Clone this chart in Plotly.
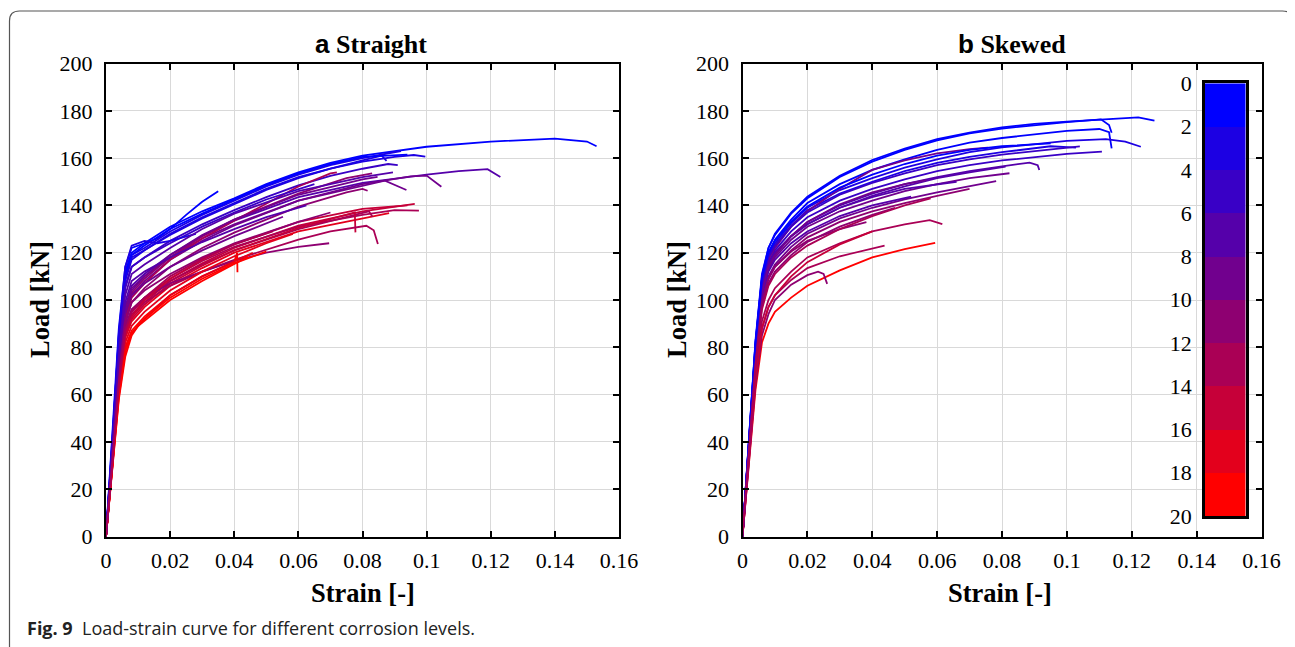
import plotly.graph_objects as go

# ---------------- data ----------------
tick_vals_x = [0, 0.02, 0.04, 0.06, 0.08, 0.1, 0.12, 0.14, 0.16]
tick_text_x = ["0", "0.02", "0.04", "0.06", "0.08", "0.1", "0.12", "0.14", "0.16"]
tick_vals_y = [0, 20, 40, 60, 80, 100, 120, 140, 160, 180, 200]

cbar_ticks = [0, 2, 4, 6, 8, 10, 12, 14, 16, 18, 20]
cbar_band_centers = [1, 3, 5, 7, 9, 11, 13, 15, 17, 19]
band_colors = ["#0000FF", "#1C00E3", "#3900C6", "#5500AA", "#71008E",
               "#8E0071", "#AA0055", "#C60039", "#E3001C", "#FF0000"]

# Straight bars: corrosion level, strain, load
straight_level = [0, 1, 2, 2, 3, 4, 1, 7, 9, 8, 10, 11, 12, 9, 6, 8, 5,
                  14, 12, 16, 13, 15, 12, 11, 18, 20, 17, 16, 19, 14, 10, 3, 6, 13]
straight_strain = [
    [0, 0.002, 0.004, 0.006, 0.008, 0.012, 0.02, 0.03, 0.04, 0.05, 0.06, 0.07, 0.08, 0.09, 0.1, 0.12, 0.14, 0.15, 0.153],
    [0, 0.002, 0.004, 0.006, 0.008, 0.012, 0.016, 0.02, 0.025, 0.03, 0.035],
    [0, 0.002, 0.004, 0.006, 0.008, 0.012, 0.02, 0.03, 0.04, 0.05, 0.06, 0.07, 0.08, 0.09, 0.092],
    [0, 0.002, 0.004, 0.006, 0.008, 0.012, 0.02, 0.03, 0.04, 0.05, 0.06, 0.07, 0.08, 0.09, 0.096, 0.0996],
    [0, 0.002, 0.004, 0.006, 0.008, 0.012, 0.02, 0.03, 0.04, 0.05, 0.06, 0.07, 0.08, 0.086, 0.0875],
    [0, 0.002, 0.004, 0.006, 0.008, 0.012, 0.02, 0.03, 0.04, 0.05, 0.06, 0.07, 0.08, 0.088, 0.091],
    [0, 0.002, 0.004, 0.006, 0.008, 0.012, 0.02, 0.03, 0.04, 0.05, 0.06, 0.07, 0.08, 0.094],
    [0, 0.002, 0.004, 0.006, 0.008, 0.012, 0.02, 0.03, 0.04, 0.06, 0.08, 0.1, 0.11, 0.119, 0.123],
    [0, 0.002, 0.004, 0.006, 0.008, 0.012, 0.02, 0.03, 0.04, 0.06, 0.08, 0.095, 0.1, 0.1046],
    [0, 0.002, 0.004, 0.006, 0.008, 0.012, 0.02, 0.03, 0.04, 0.06, 0.08, 0.087, 0.0937],
    [0, 0.002, 0.004, 0.006, 0.008, 0.012, 0.02, 0.03, 0.04, 0.06, 0.075, 0.08, 0.0816],
    [0, 0.002, 0.004, 0.006, 0.008, 0.012, 0.02, 0.03, 0.04, 0.06, 0.075, 0.083],
    [0, 0.002, 0.004, 0.006, 0.008, 0.012, 0.02, 0.03, 0.04, 0.06, 0.07, 0.072],
    [0, 0.002, 0.004, 0.006, 0.008, 0.012, 0.02, 0.03, 0.04, 0.06, 0.08, 0.0847],
    [0, 0.002, 0.004, 0.006, 0.008, 0.012, 0.02, 0.03, 0.04, 0.05, 0.0625],
    [0, 0.002, 0.004, 0.006, 0.008, 0.012, 0.02, 0.03, 0.04, 0.0552],
    [0, 0.002, 0.004, 0.006, 0.008, 0.012, 0.02, 0.03, 0.04, 0.05, 0.065],
    [0, 0.002, 0.004, 0.006, 0.008, 0.012, 0.02, 0.03, 0.04, 0.06, 0.08, 0.0963],
    [0, 0.002, 0.004, 0.006, 0.008, 0.012, 0.02, 0.03, 0.04, 0.06, 0.08, 0.09, 0.0976],
    [0, 0.002, 0.004, 0.006, 0.008, 0.012, 0.02, 0.03, 0.04, 0.06, 0.08, 0.0883],
    [0, 0.002, 0.004, 0.006, 0.008, 0.012, 0.02, 0.03, 0.04, 0.06, 0.075, 0.082, 0.0831],
    [0, 0.002, 0.004, 0.006, 0.008, 0.012, 0.02, 0.03, 0.04, 0.06, 0.0776, 0.0778],
    [0, 0.002, 0.004, 0.006, 0.008, 0.012, 0.02, 0.03, 0.04, 0.06, 0.07, 0.0812, 0.0835, 0.0848],
    [0, 0.002, 0.004, 0.006, 0.008, 0.012, 0.02, 0.03, 0.04, 0.05, 0.06, 0.0696],
    [0, 0.002, 0.004, 0.006, 0.008, 0.012, 0.02, 0.03, 0.04, 0.0409, 0.041],
    [0, 0.002, 0.004, 0.006, 0.008, 0.01, 0.02, 0.03, 0.04, 0.0443],
    [0, 0.002, 0.004, 0.006, 0.008, 0.012, 0.02, 0.03, 0.04, 0.0458],
    [0, 0.002, 0.004, 0.006, 0.008, 0.012, 0.02, 0.03, 0.04, 0.05, 0.0583],
    [0, 0.002, 0.004, 0.006, 0.008, 0.012, 0.02, 0.03, 0.04, 0.05],
    [0, 0.002, 0.004, 0.006, 0.008, 0.012, 0.02, 0.03, 0.04, 0.06, 0.08, 0.094],
    [0, 0.002, 0.004, 0.006, 0.008, 0.012, 0.02, 0.03, 0.04, 0.06, 0.07],
    [0, 0.002, 0.004, 0.006, 0.008, 0.012, 0.016, 0.02, 0.028],
    [0, 0.002, 0.004, 0.006, 0.008, 0.012, 0.02, 0.03, 0.04, 0.06, 0.08, 0.0895],
    [0, 0.002, 0.004, 0.006, 0.008, 0.012, 0.02, 0.03, 0.04, 0.052],
]
straight_load = [
    [0, 40, 85, 112, 120, 124, 131, 137.5, 143, 149, 154, 158, 161, 163, 164.8, 167, 168.2, 167, 165],
    [0, 42, 88, 114, 122, 124, 126, 130, 136, 141.5, 146],
    [0, 38, 82, 110, 119, 122, 129, 136, 142, 148, 153, 157, 160, 162.5, 163],
    [0, 37, 80, 108, 117, 121, 128, 135, 141, 147, 152, 155.5, 158.5, 160.5, 161.3, 160.6],
    [0, 38, 82, 110, 118, 121, 127.5, 134.5, 140.5, 146.5, 151.5, 155.5, 159, 161, 158.8],
    [0, 36, 78, 105, 114, 118, 125, 132, 138, 143.5, 148.5, 152.5, 155.5, 157.5, 157],
    [0, 40, 84, 111, 119, 123, 130, 136.5, 142.5, 148.5, 153.5, 157.5, 160.5, 161.5],
    [0, 34, 72, 97, 106, 111, 119, 127, 133.5, 143.5, 149.5, 153, 154.5, 155.3, 152],
    [0, 33, 70, 93, 102, 108, 117, 125, 131.5, 142, 149, 152.3, 152.6, 147.9],
    [0, 34, 72, 96, 105, 110, 118, 126, 132, 142, 148.5, 150.5, 146.5],
    [0, 32, 68, 90, 99, 105, 114, 122, 128.5, 139.5, 145.5, 147, 146.2],
    [0, 33, 70, 94, 103, 109, 118, 127, 134, 145, 151.5, 153.5],
    [0, 32, 68, 92, 101, 107, 117, 126, 133.5, 148, 153.5, 154],
    [0, 34, 72, 96, 104, 110, 119, 127.5, 134, 144.5, 151, 152.1],
    [0, 35, 74, 99, 108, 112, 118, 124.5, 130, 135, 140],
    [0, 34, 71, 94, 102, 107, 114, 121, 127, 135.2],
    [0, 38, 80, 106, 114, 118, 124, 131, 137, 142.5, 149],
    [0, 30, 64, 85, 93, 99, 108, 115.5, 122, 131.5, 137.5, 140.6],
    [0, 31, 66, 88, 96, 101, 109, 116.5, 122.5, 131, 136, 138, 137.8],
    [0, 30, 63, 84, 91, 97, 106, 113.5, 120, 129, 134.5, 136.7],
    [0, 31, 65, 87, 95, 100, 108, 115, 121, 130, 135, 137.5, 135.2],
    [0, 30, 64, 85, 92, 98, 107, 114.5, 121, 130.5, 137, 128.6],
    [0, 31, 66, 87, 94, 99, 106, 112, 117, 125.5, 129, 131.4, 129.5, 123.7],
    [0, 32, 67, 89, 96, 101, 107, 112, 116.5, 120, 122.5, 124],
    [0, 29, 61, 80, 87, 93, 102, 110, 116, 120, 111.7],
    [0, 28, 58, 76, 85, 89, 100, 108, 115, 118.3],
    [0, 29, 60, 79, 86, 92, 102, 110, 116.5, 120],
    [0, 30, 62, 82, 89, 95, 104, 112, 118.5, 124, 127.9],
    [0, 28, 59, 78, 86, 92, 101, 109, 115.5, 120.5],
    [0, 30, 63, 85, 93, 100, 109, 117, 123.5, 133, 138.5, 140],
    [0, 32, 68, 91, 99, 104, 111, 118, 124, 133, 137],
    [0, 40, 86, 114, 123, 125, 124, 125, 128],
    [0, 36, 76, 102, 111, 115, 122, 130, 136.5, 146, 152, 154],
    [0, 31, 65, 87, 95, 101, 110, 117.5, 123.5, 129],
]

# Skewed bars: corrosion level, strain, load
skewed_level = [0, 0, 1, 2, 3, 5, 7, 6, 8, 9, 8, 10, 13, 12, 20, 11, 14,
                6, 7, 9, 4, 10, 1, 11, 12]
skewed_strain = [
    [0, 0.002, 0.004, 0.006, 0.008, 0.01, 0.015, 0.02, 0.03, 0.04, 0.05, 0.06, 0.07, 0.08, 0.09, 0.1, 0.11, 0.122, 0.127],
    [0, 0.002, 0.004, 0.006, 0.008, 0.01, 0.015, 0.02, 0.03, 0.04, 0.05, 0.06, 0.07, 0.08, 0.09, 0.1, 0.1105, 0.113, 0.1138],
    [0, 0.002, 0.004, 0.006, 0.008, 0.01, 0.015, 0.02, 0.03, 0.04, 0.05, 0.06, 0.07, 0.08, 0.09, 0.1, 0.11, 0.113, 0.1138],
    [0, 0.002, 0.004, 0.006, 0.008, 0.01, 0.015, 0.02, 0.03, 0.04, 0.05, 0.06, 0.07, 0.08, 0.09, 0.1, 0.112, 0.118, 0.1228],
    [0, 0.002, 0.004, 0.006, 0.008, 0.01, 0.015, 0.02, 0.03, 0.04, 0.05, 0.06, 0.07, 0.08, 0.095, 0.1028],
    [0, 0.002, 0.004, 0.006, 0.008, 0.01, 0.015, 0.02, 0.03, 0.04, 0.05, 0.06, 0.07, 0.08, 0.09, 0.1, 0.1108],
    [0, 0.002, 0.004, 0.006, 0.008, 0.01, 0.015, 0.02, 0.03, 0.04, 0.05, 0.06, 0.07, 0.08, 0.0885, 0.091, 0.0915],
    [0, 0.002, 0.004, 0.006, 0.008, 0.01, 0.015, 0.02, 0.03, 0.04, 0.05, 0.06, 0.07, 0.0811],
    [0, 0.002, 0.004, 0.006, 0.008, 0.01, 0.015, 0.02, 0.03, 0.04, 0.05, 0.06, 0.07, 0.0823],
    [0, 0.002, 0.004, 0.006, 0.008, 0.01, 0.015, 0.02, 0.03, 0.04, 0.05, 0.06, 0.07, 0.0782],
    [0, 0.002, 0.004, 0.006, 0.008, 0.01, 0.015, 0.02, 0.03, 0.04, 0.05, 0.06, 0.07, 0.0756],
    [0, 0.002, 0.004, 0.006, 0.008, 0.01, 0.015, 0.02, 0.03, 0.0382],
    [0, 0.002, 0.004, 0.006, 0.008, 0.01, 0.015, 0.02, 0.03, 0.04, 0.05, 0.0577, 0.0616],
    [0, 0.002, 0.004, 0.006, 0.008, 0.01, 0.015, 0.02, 0.03, 0.0438],
    [0, 0.002, 0.004, 0.006, 0.008, 0.01, 0.015, 0.02, 0.03, 0.04, 0.05, 0.0594],
    [0, 0.002, 0.004, 0.006, 0.008, 0.01, 0.015, 0.02, 0.0233, 0.025, 0.0261],
    [0, 0.002, 0.004, 0.006, 0.008, 0.01, 0.015, 0.02, 0.03, 0.04],
    [0, 0.002, 0.004, 0.006, 0.008, 0.01, 0.015, 0.02, 0.03, 0.04, 0.05, 0.066],
    [0, 0.002, 0.004, 0.006, 0.008, 0.01, 0.015, 0.02, 0.03, 0.04, 0.052],
    [0, 0.002, 0.004, 0.006, 0.008, 0.01, 0.015, 0.02, 0.03, 0.04, 0.05, 0.0567],
    [0, 0.002, 0.004, 0.006, 0.008, 0.01, 0.015, 0.02, 0.03, 0.04, 0.05, 0.06, 0.07, 0.08, 0.09, 0.1, 0.104],
    [0, 0.002, 0.004, 0.006, 0.008, 0.01, 0.015, 0.02, 0.03, 0.04, 0.05, 0.06, 0.07],
    [0, 0.002, 0.004, 0.006, 0.008, 0.01, 0.015, 0.02, 0.03, 0.04, 0.05, 0.06, 0.07, 0.08, 0.09, 0.095],
    [0, 0.002, 0.004, 0.006, 0.008, 0.01, 0.015, 0.02, 0.03, 0.04, 0.047],
    [0, 0.002, 0.004, 0.006, 0.008, 0.01, 0.015, 0.02, 0.03, 0.04, 0.05, 0.058],
]
skewed_load = [
    [0, 40, 82, 110, 122, 128, 137, 143.7, 152.5, 159.2, 164, 168, 170.8, 173, 174.5, 175.4, 176.2, 177.2, 175.8],
    [0, 41, 83, 111, 122, 127.5, 136.5, 143, 152, 158.5, 163.5, 167.5, 170.5, 172.5, 174, 175.2, 176.4, 174, 170.7],
    [0, 40, 81, 109, 120, 125.5, 134, 141, 149, 155, 159.5, 163.5, 166.5, 168.5, 170, 171.5, 172.3, 171, 164.1],
    [0, 39, 80, 108, 119, 124, 132.5, 139, 146.5, 151.5, 156, 159.5, 162.5, 164.5, 166, 167.3, 168, 167, 164.8],
    [0, 39, 80, 107, 118, 123, 131.5, 138, 145, 150, 154.5, 158, 160.5, 162.5, 165, 164.4],
    [0, 38, 78, 105, 116, 121, 129, 135, 142, 147, 151, 154.5, 157, 159, 160.5, 161.8, 162.7],
    [0, 37, 77, 103, 114, 119, 127, 133, 140, 145, 149, 152, 154.5, 156.5, 158.1, 157, 155],
    [0, 38, 78, 104, 115, 120, 127, 132, 139, 144, 148, 151.5, 154, 156.4],
    [0, 37, 76, 102, 113, 118, 125.5, 131, 137.5, 142, 146, 149, 151.5, 153.6],
    [0, 36, 75, 100, 110, 115, 122.5, 128, 134.5, 139, 142.5, 145.5, 148, 150.3],
    [0, 38, 79, 106, 117, 122, 131, 137.5, 147, 155, 159, 162, 163.8, 164.4],
    [0, 35, 74, 99, 109, 114, 120.5, 125, 130, 132.9],
    [0, 33, 68, 91, 100, 105, 112, 118, 124, 129, 132, 133.8, 132.1],
    [0, 32, 66, 88, 97, 102, 108.5, 113.5, 118.5, 123],
    [0, 30, 62, 82, 90, 95, 101, 106, 112.5, 118, 121.5, 124.2],
    [0, 31, 64, 85, 94, 100, 106.5, 110.5, 112, 111, 106.8],
    [0, 32, 66, 88, 97, 102, 110, 116, 123.5, 129],
    [0, 38, 79, 105, 115, 120, 127, 132, 139, 143.5, 147, 150],
    [0, 37, 77, 102, 112, 117, 124, 129, 135.5, 140, 143.7],
    [0, 37, 77, 103, 114, 119, 127, 133, 140.5, 145.5, 149, 150.7],
    [0, 39, 80, 107, 118, 123, 131, 137, 144.5, 149.5, 153.5, 157, 159.5, 161.5, 163, 164.5, 165],
    [0, 36, 74, 99, 109, 114, 121, 126.5, 133, 137.5, 141, 144, 147],
    [0, 40, 82, 109, 120, 125, 133, 139.5, 147.5, 153, 157.5, 161, 163.5, 165, 166, 166.2],
    [0, 35, 73, 97, 107, 112, 119, 124.5, 131, 136, 139],
    [0, 35, 72, 96, 106, 111, 118, 123, 130, 135.5, 140, 143],
]

# ---------------- figure ----------------
# the page body has an 8 px margin, so the figure is 8 px smaller and
# every screen position below is shifted by that offset
OFF = 8
W, H = 1295 - OFF, 647 - OFF
SERIF = "Liberation Serif"


def level_color(lvl):
    return band_colors[min(int(lvl // 2), 9)]


fig = go.Figure()

for lvl, xs, ys in zip(straight_level, straight_strain, straight_load):
    fig.add_trace(go.Scatter(x=xs, y=ys, mode="lines", xaxis="x", yaxis="y",
                             line=dict(color=level_color(lvl), width=1.8),
                             showlegend=False, hoverinfo="skip"))

for lvl, xs, ys in zip(skewed_level, skewed_strain, skewed_load):
    fig.add_trace(go.Scatter(x=xs, y=ys, mode="lines", xaxis="x2", yaxis="y2",
                             line=dict(color=level_color(lvl), width=1.8),
                             showlegend=False, hoverinfo="skip"))

# colour bar drawn as a heatmap on its own small axes
fig.add_trace(go.Heatmap(
    x=[0], y=cbar_band_centers, z=[[i] for i in range(len(band_colors))],
    zmin=0, zmax=len(band_colors) - 1,
    colorscale=[[i / (len(band_colors) - 1), c] for i, c in enumerate(band_colors)],
    showscale=False, xaxis="x3", yaxis="y3", hoverinfo="skip"))

px_x = lambda p: (p - OFF) / W
px_y = lambda p: 1 - (p - OFF) / H

ydom = [px_y(536.5), px_y(63.5)]
axis_common = dict(showline=True, linecolor="black", linewidth=2, mirror="ticks",
                   ticks="inside", ticklen=6, tickwidth=2, tickcolor="black",
                   showgrid=True, gridcolor="#d9d9d9", gridwidth=1, zeroline=False,
                   automargin=False,
                   tickfont=dict(family=SERIF, size=22, color="black"))

xcommon = dict(axis_common, range=[0, 0.16], tickvals=tick_vals_x, ticktext=tick_text_x,
               tickangle=0, ticklabelstandoff=3)
ycommon = dict(axis_common, range=[0, 200], tickvals=tick_vals_y, ticklabelstandoff=7)

fig.update_layout(
    template="none",
    width=W, height=H,
    margin=dict(l=0, r=0, t=0, b=0, pad=0),
    paper_bgcolor="white", plot_bgcolor="white",
    xaxis=dict(xcommon, domain=[px_x(106), px_x(619)], anchor="y"),
    yaxis=dict(ycommon, domain=ydom, anchor="x"),
    xaxis2=dict(xcommon, domain=[px_x(742.5), px_x(1261.5)], anchor="y2"),
    yaxis2=dict(ycommon, domain=ydom, anchor="x2"),
    xaxis3=dict(domain=[px_x(1205), px_x(1245.5)], anchor="y3", range=[-0.5, 0.5],
                showline=True, linecolor="black", linewidth=2.5, mirror=True,
                showticklabels=False, ticks="", showgrid=False, zeroline=False,
                automargin=False),
    yaxis3=dict(domain=[px_y(516), px_y(83.3)], anchor="x3", range=[20, 0],
                tickvals=cbar_ticks, showline=True, linecolor="black", linewidth=2.5,
                mirror=True, ticks="", showgrid=False, zeroline=False,
                ticklabelstandoff=6, automargin=False,
                tickfont=dict(family=SERIF, size=22, color="black")),
)

ann_font = dict(family=SERIF, size=26, color="black")
title_font = dict(family=SERIF, size=26.5, color="black")
annotations = [
    dict(text="<b><span style='font-family:Liberation Sans'>a</span> Straight</b>",
         x=px_x(371), y=px_y(44), font=ann_font),
    dict(text="<b><span style='font-family:Liberation Sans'>b</span> Skewed</b>",
         x=px_x(1012), y=px_y(44), font=ann_font),
    dict(text="<b>Strain [-]</b>", x=px_x(363), y=px_y(593), font=title_font),
    dict(text="<b>Strain [-]</b>", x=px_x(1000), y=px_y(593), font=title_font),
    dict(text="<b>Load [kN]</b>", x=px_x(40), y=px_y(300), font=title_font, textangle=-90),
    dict(text="<b>Load [kN]</b>", x=px_x(677), y=px_y(300), font=title_font, textangle=-90),
]
for a in annotations:
    fig.add_annotation(xref="paper", yref="paper", showarrow=False,
                       xanchor="center", yanchor="middle", **a)

fig.add_annotation(xref="paper", yref="paper", showarrow=False,
                   x=px_x(25), y=px_y(628), xanchor="left", yanchor="middle",
                   text="<b>Fig. 9</b>  Load-strain curve for different corrosion levels.",
                   font=dict(family="Open Sans", size=18, color="#222222"))

# rounded frame around the figure
x0, x1, yt, yb, r = 9.5, 1292.5, 11, 652, 10
path = (f"M {px_x(x0)},{px_y(yb)} L {px_x(x0)},{px_y(yt + r)} "
        f"Q {px_x(x0)},{px_y(yt)} {px_x(x0 + r)},{px_y(yt)} "
        f"L {px_x(x1 - r)},{px_y(yt)} Q {px_x(x1)},{px_y(yt)} {px_x(x1)},{px_y(yt + r)} "
        f"L {px_x(x1)},{px_y(yb)}")
fig.add_shape(type="path", path=path, xref="paper", yref="paper",
              line=dict(color="#555555", width=1.2))

fig.write_html("out.html")
